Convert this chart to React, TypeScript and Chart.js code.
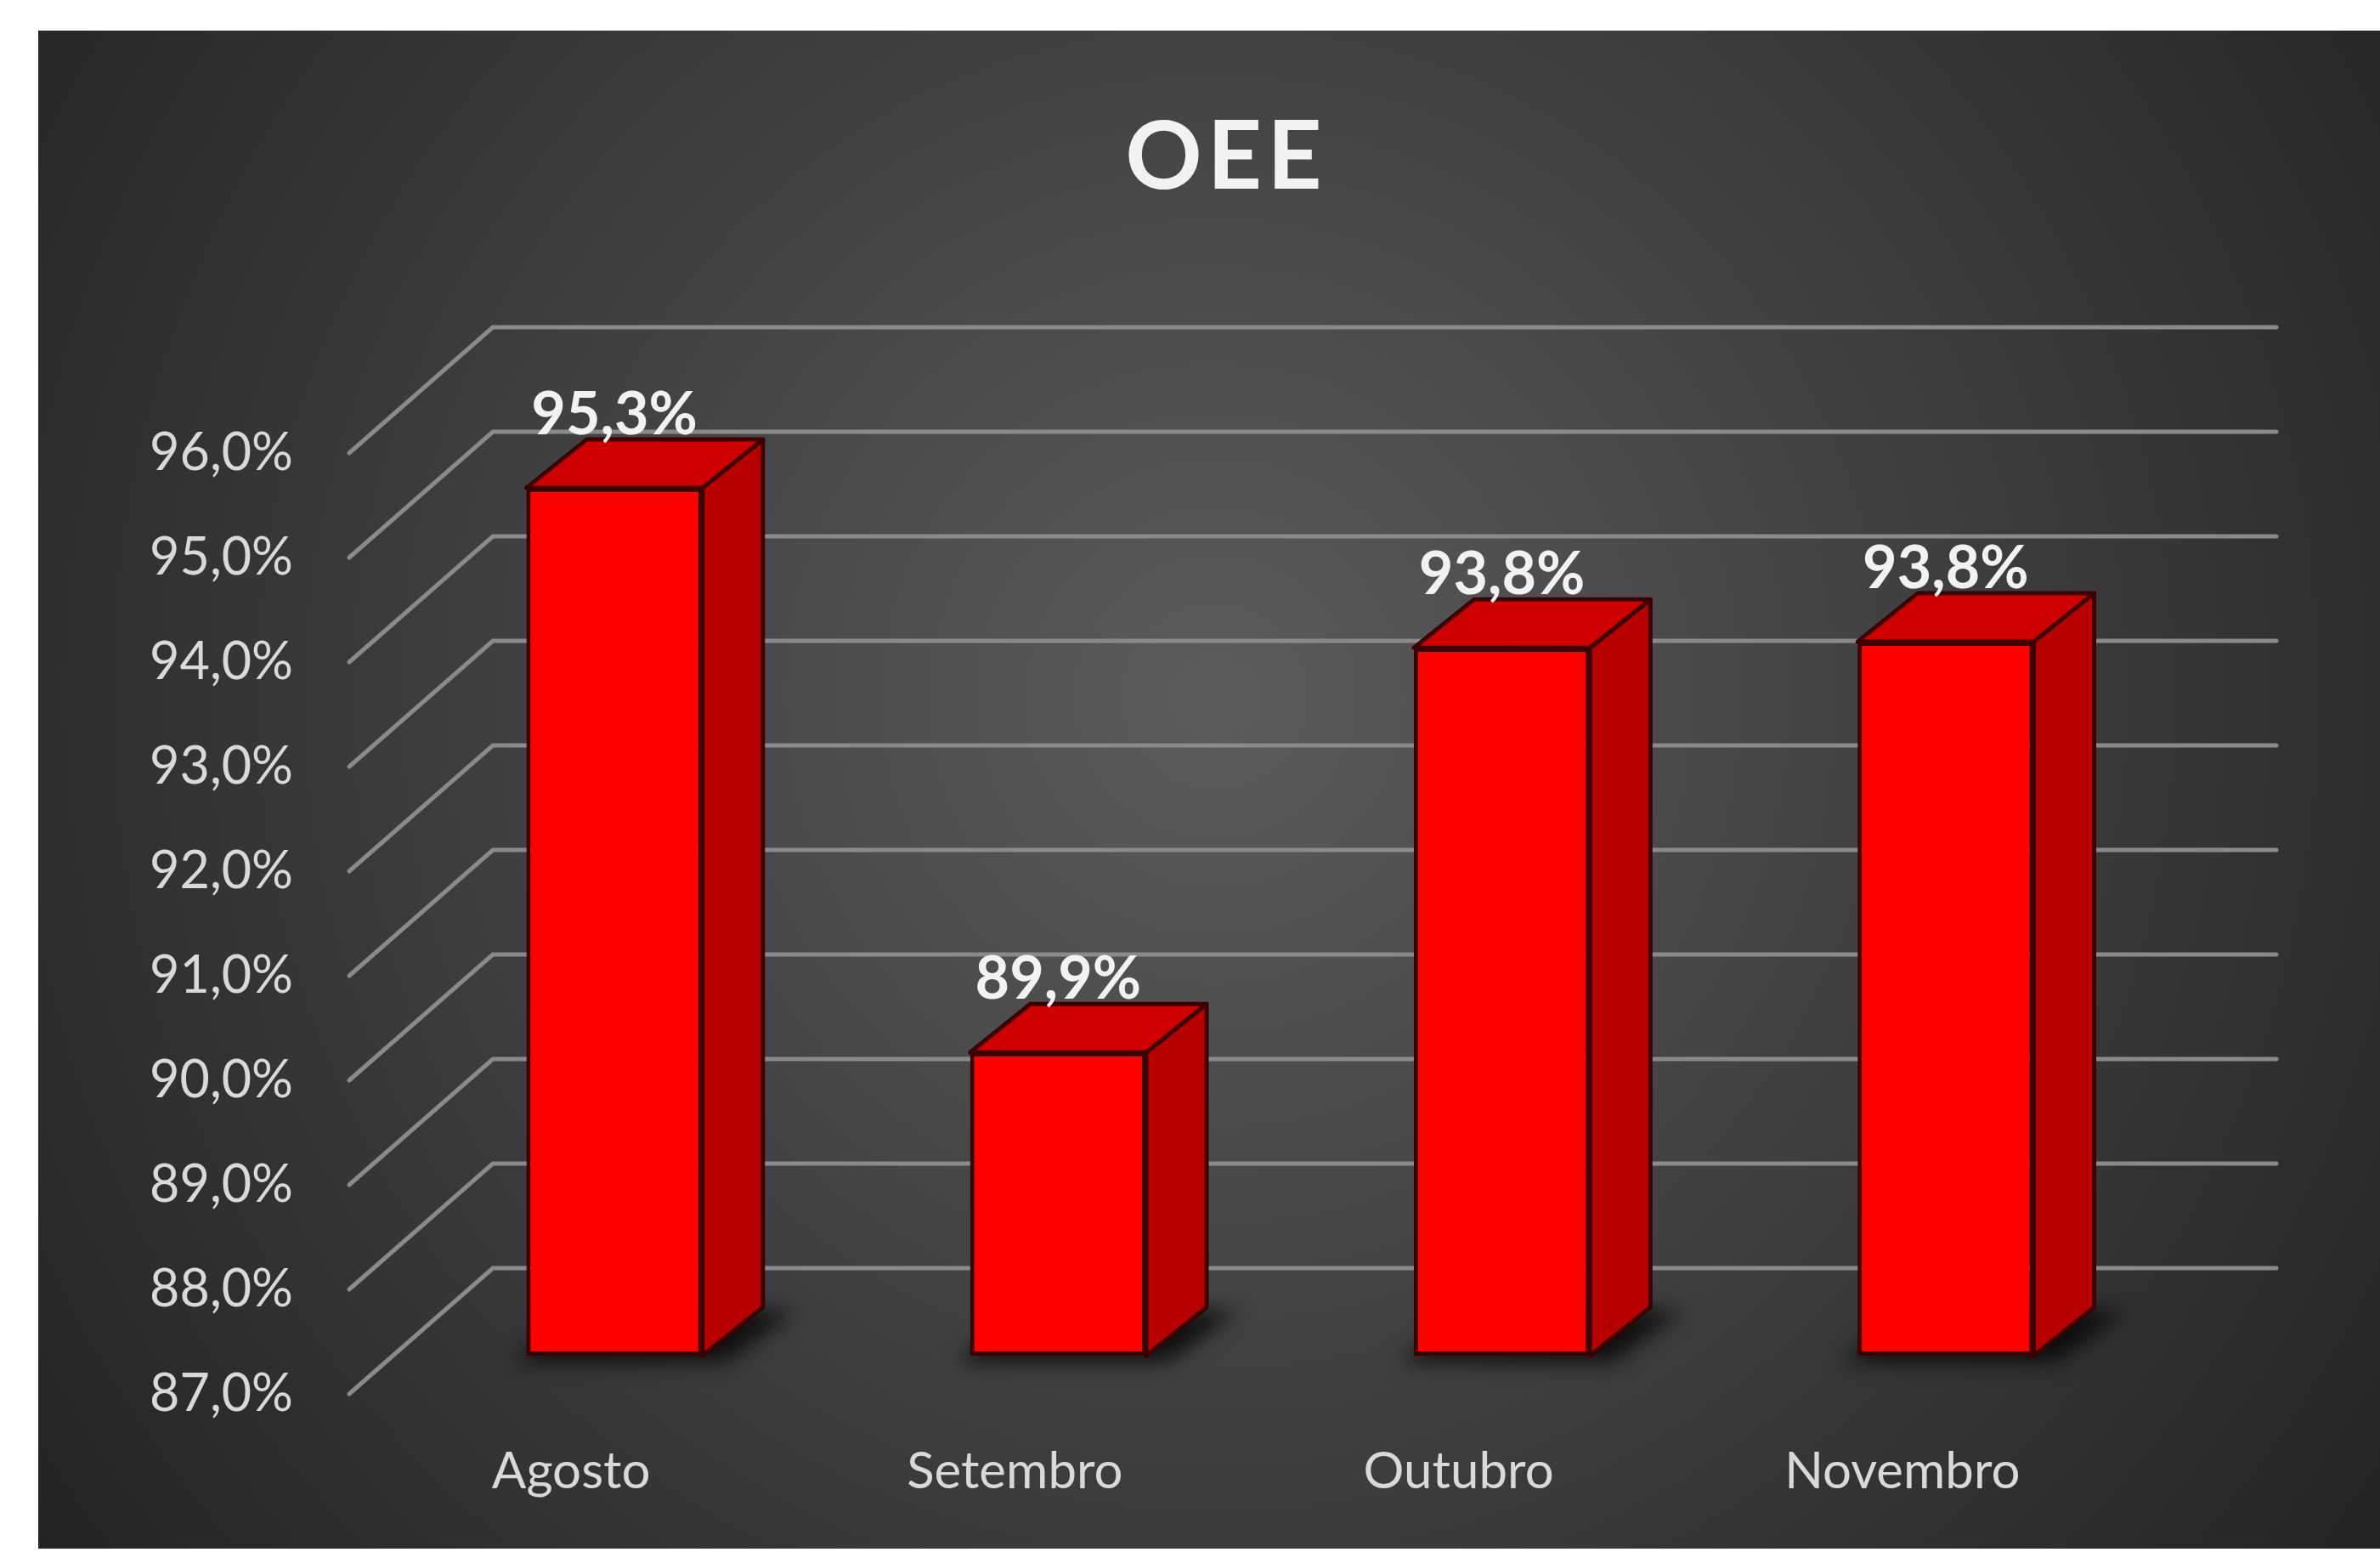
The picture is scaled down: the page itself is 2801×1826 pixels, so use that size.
import React, { useEffect, useRef } from 'react';
import { Chart, registerables } from 'chart.js';

Chart.register(...registerables);

// ---- data ----
const categories = ['Agosto', 'Setembro', 'Outubro', 'Novembro'];
const oeeValues = [95.3, 89.9, 93.77, 93.83];
const yTickValues = [87, 88, 89, 90, 91, 92, 93, 94, 95, 96];
const yMin = 87;
const yMax = 96;
const chartTitle = 'OEE';

const fmt = (v: number) => v.toFixed(1).replace('.', ',') + '%';

const W = 2801;
const H = 1826;
const FONT = 'Lato, "Open Sans", "DejaVu Sans", sans-serif';

// 3D geometry (pixel offsets relative to the bar plane)
const FRONT = { dx: -51, dy: 45 };
const BACK = { dx: 118, dy: -103 };
const WALL_RIGHT_EXTRA = 128;
const BAR_DEPTH = { dx: 71, dy: -57 };

function poly(ctx: CanvasRenderingContext2D, pts: number[][]) {
  ctx.beginPath();
  ctx.moveTo(pts[0][0], pts[0][1]);
  for (let i = 1; i < pts.length; i++) ctx.lineTo(pts[i][0], pts[i][1]);
  ctx.closePath();
}

const excel3d = {
  id: 'excel3d',
  beforeDraw(chart: any) {
    const ctx: CanvasRenderingContext2D = chart.ctx;
    ctx.save();
    ctx.fillStyle = '#ffffff';
    ctx.fillRect(0, 0, W, H);
    const g = ctx.createRadialGradient(1430, 820, 40, 1430, 820, 1700);
    g.addColorStop(0, '#5a5a5a');
    g.addColorStop(1, '#232323');
    ctx.fillStyle = g;
    ctx.fillRect(45, 36, W - 45, 1822 - 36);
    // title
    ctx.fillStyle = '#f2f2f2';
    ctx.font = `bold 112px ${FONT}`;
    (ctx as any).letterSpacing = '6px';
    ctx.textAlign = 'center';
    ctx.textBaseline = 'middle';
    ctx.fillText(chartTitle, 1443, 186);
    ctx.restore();
  },
  beforeDatasetsDraw(chart: any) {
    const ctx: CanvasRenderingContext2D = chart.ctx;
    const ys = chart.scales.y;
    const area = chart.chartArea;
    ctx.save();
    ctx.strokeStyle = '#8a8a8a';
    ctx.lineWidth = 5;
    ctx.lineCap = 'round';
    yTickValues.forEach((v) => {
      const p = ys.getPixelForValue(v);
      ctx.beginPath();
      ctx.moveTo(area.left + FRONT.dx, p + FRONT.dy);
      ctx.lineTo(area.left + BACK.dx, p + BACK.dy);
      ctx.lineTo(area.right + WALL_RIGHT_EXTRA, p + BACK.dy);
      ctx.stroke();
    });
    // shadows under bars
    const meta = chart.getDatasetMeta(0);
    ctx.filter = 'blur(12px)';
    ctx.fillStyle = 'rgba(0,0,0,0.75)';
    meta.data.forEach((el: any) => {
      const { x, base, width } = el.getProps(['x', 'base', 'width'], true);
      const l = x - width / 2 - 16;
      const r = x + width / 2 + 26;
      const b = base + 8;
      poly(ctx, [
        [l, b],
        [r, b],
        [r + BAR_DEPTH.dx + 12, b + BAR_DEPTH.dy - 4],
        [l + BAR_DEPTH.dx, b + BAR_DEPTH.dy - 4],
      ]);
      ctx.fill();
    });
    ctx.restore();
  },
  afterDatasetsDraw(chart: any) {
    const ctx: CanvasRenderingContext2D = chart.ctx;
    const meta = chart.getDatasetMeta(0);
    ctx.save();
    ctx.lineJoin = 'round';
    ctx.lineWidth = 5;
    ctx.strokeStyle = '#3d0000';
    meta.data.forEach((el: any, i: number) => {
      const { x, y, base, width } = el.getProps(['x', 'y', 'base', 'width'], true);
      const l = x - width / 2;
      const r = x + width / 2;
      const { dx, dy } = BAR_DEPTH;
      // side face
      poly(ctx, [
        [r, y],
        [r + dx, y + dy],
        [r + dx, base + dy],
        [r, base],
      ]);
      ctx.fillStyle = '#b70000';
      ctx.fill();
      ctx.stroke();
      // top face
      poly(ctx, [
        [l, y],
        [l + dx, y + dy],
        [r + dx, y + dy],
        [r, y],
      ]);
      ctx.fillStyle = '#cf0000';
      ctx.fill();
      ctx.stroke();
      // data label
      ctx.fillStyle = '#f2f2f2';
      ctx.font = `bold 70px ${FONT}`;
      ctx.textAlign = 'center';
      ctx.textBaseline = 'alphabetic';
      ctx.fillText(fmt(oeeValues[i]), x, y + dy - 6);
    });
    ctx.restore();
  },
};

export default function App() {
  const ref = useRef<HTMLCanvasElement | null>(null);

  useEffect(() => {
    if (!ref.current) return;
    const chart = new Chart(ref.current, {
      type: 'bar',
      data: {
        labels: categories,
        datasets: [
          {
            label: 'OEE',
            data: oeeValues,
            base: yMin,
            backgroundColor: '#ff0000',
            borderColor: '#3d0000',
            borderWidth: 5,
            borderSkipped: false,
            barPercentage: 0.397,
            categoryPercentage: 1,
          },
        ],
      },
      options: {
        responsive: false,
        animation: false,
        layout: { padding: { top: 488, right: 250, left: 0, bottom: 0 } },
        plugins: {
          legend: { display: false },
          title: { display: false },
          tooltip: { enabled: false },
        },
        scales: {
          x: {
            grid: { display: false, drawTicks: false },
            border: { display: false },
            ticks: {
              color: '#d9d9d9',
              font: { family: FONT, size: 60 },
              padding: 101,
              labelOffset: FRONT.dx,
              maxRotation: 0,
              autoSkip: false,
            },
            afterFit: (axis: any) => {
              axis.height = 231;
            },
          },
          y: {
            min: yMin,
            max: yMax,
            beginAtZero: false,
            grid: { display: false, drawTicks: false },
            border: { display: false },
            afterBuildTicks: (axis: any) => {
              axis.ticks = yTickValues.map((v) => ({ value: v }));
            },
            ticks: {
              color: '#d9d9d9',
              font: { family: FONT, size: 61 },
              padding: 117,
              labelOffset: FRONT.dy,
              callback: (v: any) => fmt(Number(v)),
            },
            afterFit: (axis: any) => {
              axis.width = 462;
            },
          },
        },
      } as any,
      plugins: [excel3d as any],
    });
    return () => chart.destroy();
  }, []);

  return (
    <div style={{ position: 'fixed', left: 0, top: 0, width: W, height: H, background: '#fff' }}>
      <canvas ref={ref} width={W} height={H} style={{ display: 'block', width: W, height: H }} />
    </div>
  );
}
